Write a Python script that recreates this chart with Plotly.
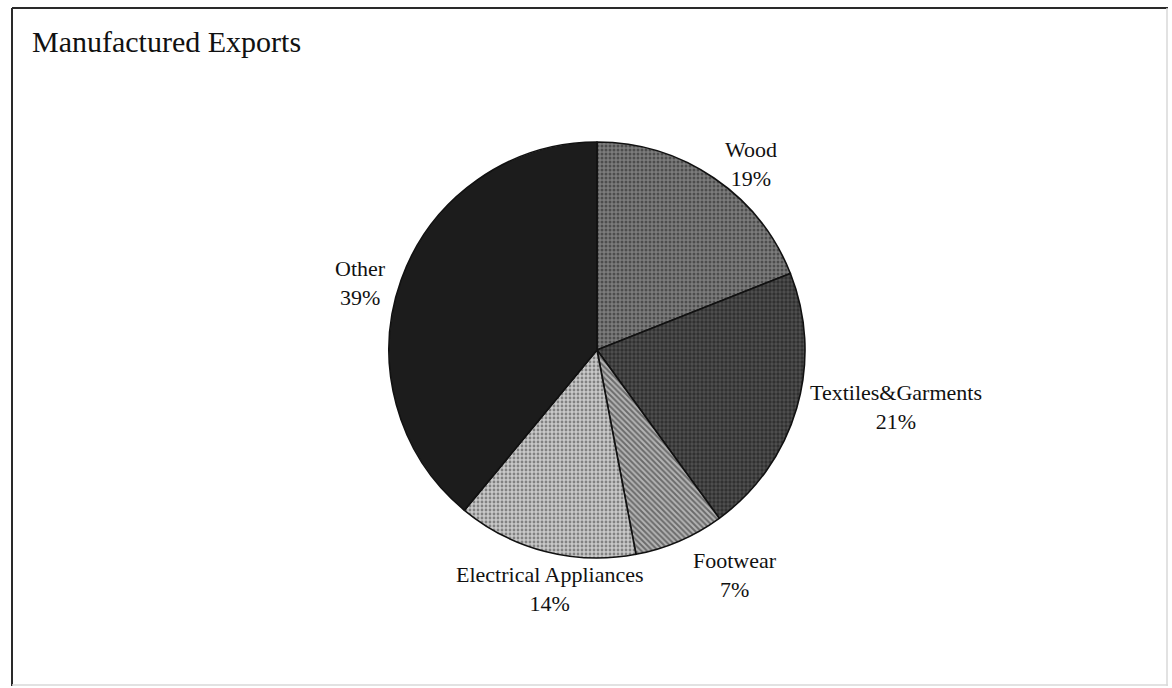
import plotly.graph_objects as go

# Shares of manufactured exports (%), drawn clockwise from 12 o'clock
categories = ["Wood", "Textiles&Garments", "Footwear", "Electrical Appliances", "Other"]
shares = [19, 21, 7, 14, 39]

# Fill treatment for each slice
pattern_shapes = [".", ".", "\\", ".", ""]
pattern_fg = ["#1e1e1e", "#111111", "#222222", "#3a3a3a", "#1c1c1c"]
pattern_bg = ["#7c7c7c", "#505050", "#b4b4b4", "#c8c8c8", "#1c1c1c"]
pattern_solidity = [0.45, 0.55, 0.5, 0.4, 0.0]

# Label anchor points (paper pixels from top-left)
label_px = [(751, 164), (896, 407), (735, 575), (550, 589), (360, 283)]

W, H = 1172, 688
CX, CY, R = 597, 350, 208

fig = go.Figure(
    go.Pie(
        labels=categories,
        values=shares,
        sort=False,
        direction="clockwise",
        rotation=0,
        textinfo="none",
        hoverinfo="label+percent",
        showlegend=False,
        marker=dict(
            colors=pattern_bg,
            line=dict(color="#111111", width=1.6),
            pattern=dict(
                shape=pattern_shapes,
                fgcolor=pattern_fg,
                bgcolor=pattern_bg,
                size=4,
                solidity=pattern_solidity,
                fillmode="overlay",
            ),
        ),
        domain=dict(
            x=[(CX - R) / W, (CX + R) / W],
            y=[(H - CY - R) / H, (H - CY + R) / H],
        ),
    )
)

annotations = [
    dict(
        text="Manufactured Exports",
        x=30 / W, y=(H - 41) / H,
        xref="paper", yref="paper",
        xanchor="left", yanchor="middle",
        showarrow=False,
        font=dict(family="Liberation Serif", size=30, color="#111111"),
    )
]
for name, val, (px, py) in zip(categories, shares, label_px):
    annotations.append(
        dict(
            text=f"{name}<br>{val}%",
            x=px / W, y=(H - py) / H,
            xref="paper", yref="paper",
            xanchor="center", yanchor="middle",
            align="center",
            showarrow=False,
            font=dict(family="Liberation Serif", size=22, color="#111111"),
        )
    )

# Frame around the chart
shapes = [
    dict(type="line", xref="paper", yref="paper", x0=12 / W, x1=1168 / W,
         y0=(H - 8) / H, y1=(H - 8) / H, line=dict(color="#2a2a2a", width=2)),
    dict(type="line", xref="paper", yref="paper", x0=12 / W, x1=12 / W,
         y0=(H - 8) / H, y1=(H - 686) / H, line=dict(color="#2a2a2a", width=2)),
    dict(type="line", xref="paper", yref="paper", x0=1167 / W, x1=1167 / W,
         y0=(H - 8) / H, y1=(H - 686) / H, line=dict(color="#d8d8d8", width=1.5)),
    dict(type="line", xref="paper", yref="paper", x0=12 / W, x1=1168 / W,
         y0=(H - 685) / H, y1=(H - 685) / H, line=dict(color="#d8d8d8", width=1.5)),
]

fig.update_layout(
    width=W,
    height=H,
    margin=dict(l=0, r=0, t=0, b=0),
    paper_bgcolor="white",
    plot_bgcolor="white",
    annotations=annotations,
    shapes=shapes,
)

fig.write_html("out.html")
